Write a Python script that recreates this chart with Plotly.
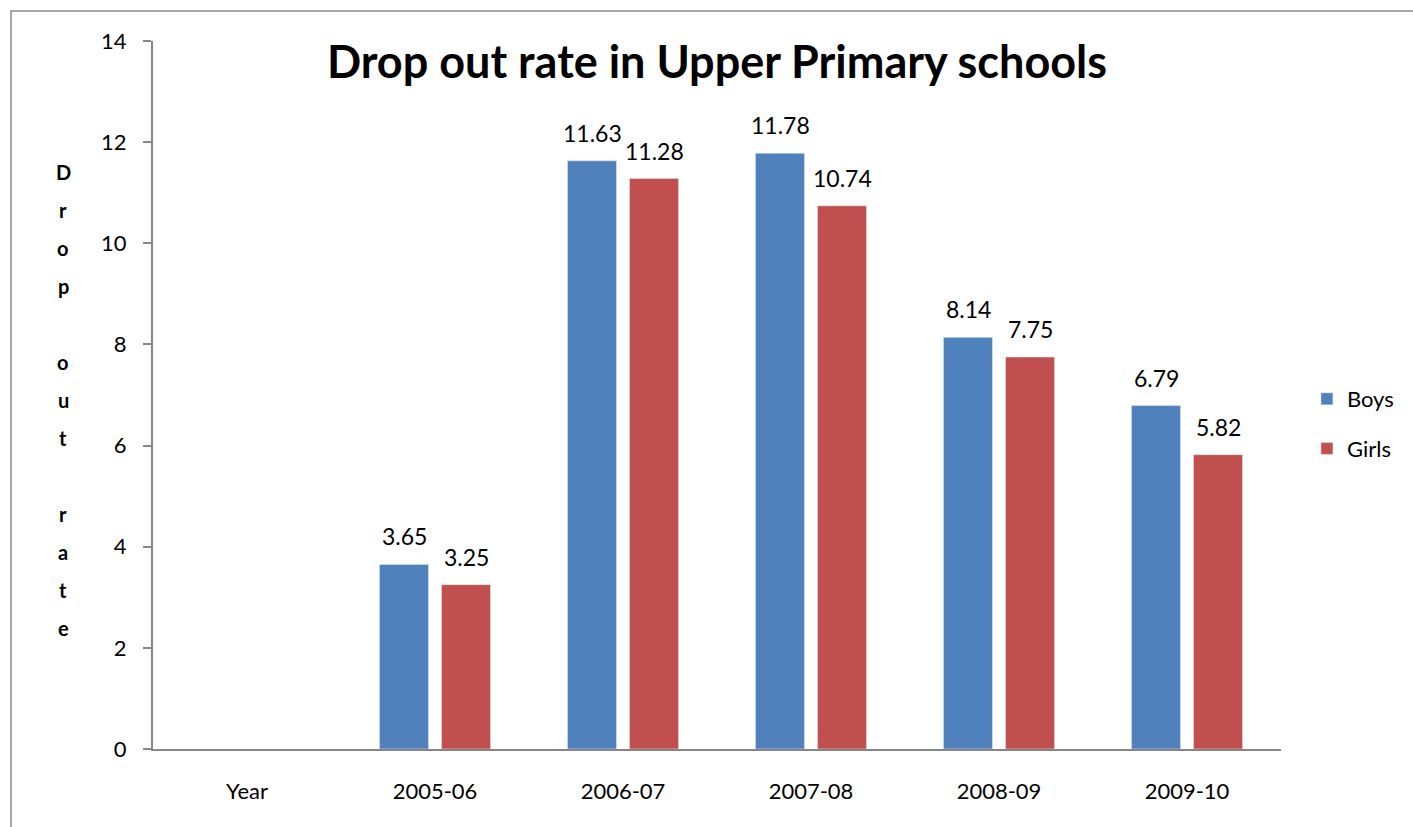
import plotly.graph_objects as go

# Chart data
categories = ["Year", "2005-06", "2006-07", "2007-08", "2008-09", "2009-10"]
boys = [None, 3.65, 11.63, 11.78, 8.14, 6.79]
girls = [None, 3.25, 11.28, 10.74, 7.75, 5.82]
y_ticks = [0, 2, 4, 6, 8, 10, 12, 14]
axis_label = "Drop out rate"

W, H = 1413, 827
ML, MR, MT, MB = 153, 132, 41, 78
plot_h = H - MT - MB
plot_w = W - ML - MR

FONT = "Lato, Carlito, Calibri, 'Open Sans', sans-serif"
AXIS_GRAY = "#868686"
LABEL_SIZE = 23
BAR_OFFSET = 31  # px from category centre to each bar centre

fig = go.Figure()
fig.add_trace(go.Bar(x=categories, y=boys, name="Boys",
                     marker_color="#4F81BD", legendgroup="b"))
fig.add_trace(go.Bar(x=categories, y=girls, name="Girls",
                     marker_color="#C0504D", legendgroup="g"))

# value labels floating above each bar
for series, shift in ((boys, -BAR_OFFSET), (girls, BAR_OFFSET)):
    for cat, v in zip(categories, series):
        if v is None:
            continue
        fig.add_annotation(
            x=cat, y=v, xref="x", yref="y", text="%.2f" % v, showarrow=False,
            xshift=shift, yshift=28, yanchor="middle", xanchor="center",
            font=dict(size=LABEL_SIZE, color="black", family=FONT),
        )

# vertical, letter-per-line axis title
step = 38
top_px = 172
lines = []
for word in axis_label.split(" "):
    lines.extend(list(word))
    lines.append("")
lines = lines[:-1]
for i, ch in enumerate(lines):
    if not ch:
        continue
    py = top_px + i * step
    fig.add_annotation(
        x=(63 - ML) / plot_w, y=1 - (py - MT) / plot_h,
        xref="paper", yref="paper", text=ch, showarrow=False,
        font=dict(size=20, color="black", family=FONT, weight="bold"),
        xanchor="center", yanchor="middle",
    )

# outer chart frame
fig.add_shape(
    type="rect", xref="paper", yref="paper",
    x0=(11 - ML) / plot_w, x1=1.5, y0=-0.5, y1=1 + (MT - 11) / plot_h,
    line=dict(color="#8c8c8c", width=1.5), fillcolor="rgba(0,0,0,0)", layer="below",
)

fig.update_layout(
    width=W, height=H,
    margin=dict(l=ML, r=MR, t=MT, b=MB),
    paper_bgcolor="white", plot_bgcolor="white",
    barmode="group", bargap=0.34, bargroupgap=0.21,
    font=dict(family=FONT, color="black", size=22),
    title=dict(
        text="<b>Drop out rate in Upper Primary schools</b>",
        font=dict(size=45, family=FONT, color="black"),
        x=(ML + plot_w / 2) / W, xanchor="center",
        y=1 - 62 / H, yanchor="middle",
    ),
    legend=dict(
        x=1.023, y=0.459, xanchor="left", yanchor="middle",
        font=dict(size=22, family=FONT), tracegroupgap=18,
        traceorder="grouped",
    ),
    showlegend=True,
)
fig.update_xaxes(
    type="category", showline=True, linecolor=AXIS_GRAY, linewidth=2, ticks="",
    showgrid=False, tickfont=dict(size=22), ticklabelstandoff=22,
)
fig.update_yaxes(
    range=[0, 14], tickvals=y_ticks, showline=True, linecolor=AXIS_GRAY,
    linewidth=2, ticks="outside", ticklen=8, tickcolor=AXIS_GRAY, tickwidth=1.5,
    showgrid=False, zeroline=False, tickfont=dict(size=22), ticklabelstandoff=12,
)

fig.write_html("out.html")
